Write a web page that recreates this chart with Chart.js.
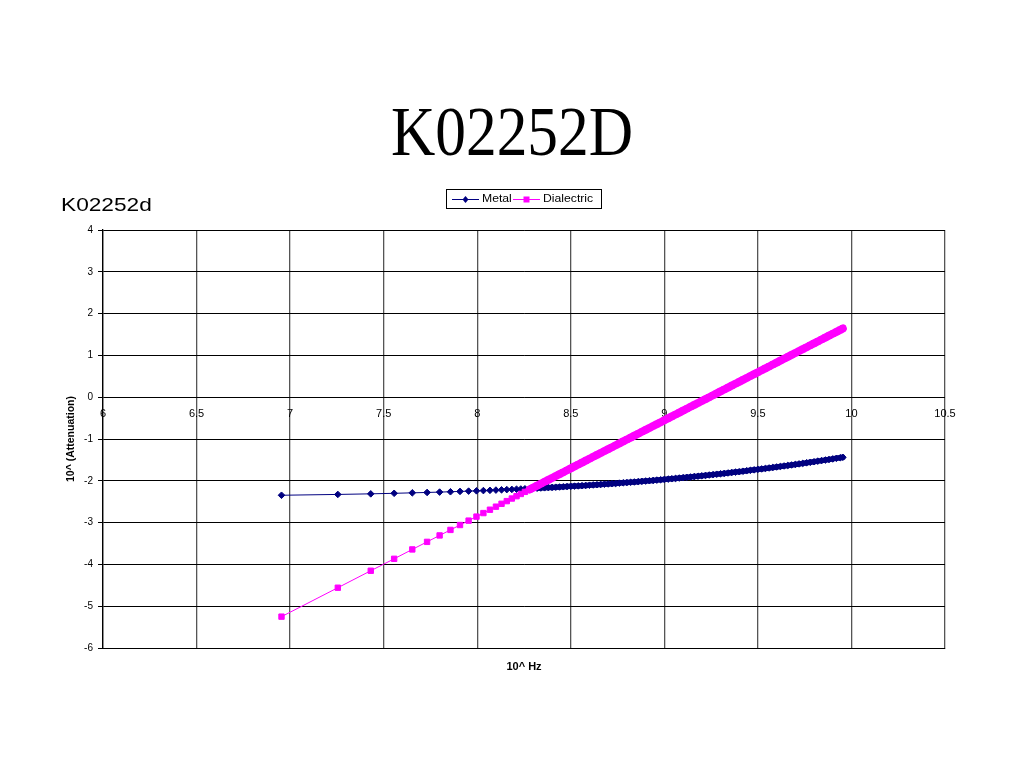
<!DOCTYPE html>
<html>
<head>
<meta charset="utf-8">
<title>K02252D</title>
<script src="https://cdn.jsdelivr.net/npm/chart.js"></script>
<style>
  body { margin: 0; background: #fff; }
  #wrap { position: relative; width: 1024px; height: 768px; overflow: hidden; }
  #myChart { position: absolute; left: 0; top: 0; }
  #title {
    position: absolute; left: 0; top: 98px; width: 1024px;
    text-align: center; line-height: 1;
    font-family: 'Liberation Serif', 'Times New Roman', serif; font-size: 69px;
    transform: scaleX(0.89);
  }
  #subtitle {
    position: absolute; left: 61px; top: 196px; line-height: 1;
    font-family: 'Liberation Sans', Arial, sans-serif; font-size: 18px;
    transform: scaleX(1.26); transform-origin: left top;
  }
</style>
</head>
<body>
<div id="wrap">
  <canvas id="myChart" width="1024" height="768"></canvas>
  <div id="title">K02252D</div>
  <div id="subtitle">K02252d</div>
</div>
<script>
'use strict'

// x = 10^ Hz, shared by both series
const xValues = [
  6.954, 7.255, 7.431, 7.556, 7.653, 7.732, 7.799, 7.857, 7.908, 7.954,
  7.996, 8.033, 8.068, 8.100, 8.130, 8.158, 8.185, 8.210, 8.233, 8.255,
  8.28, 8.30, 8.32, 8.34, 8.36, 8.38, 8.40, 8.42, 8.44, 8.46,
  8.48, 8.50, 8.52, 8.54, 8.56, 8.58, 8.60, 8.62, 8.64, 8.66,
  8.68, 8.70, 8.72, 8.74, 8.76, 8.78, 8.80, 8.82, 8.84, 8.86,
  8.88, 8.90, 8.92, 8.94, 8.96, 8.98, 9.00, 9.02, 9.04, 9.06,
  9.08, 9.10, 9.12, 9.14, 9.16, 9.18, 9.20, 9.22, 9.24, 9.26,
  9.28, 9.30, 9.32, 9.34, 9.36, 9.38, 9.40, 9.42, 9.44, 9.46,
  9.48, 9.50, 9.52, 9.54, 9.56, 9.58, 9.60, 9.62, 9.64, 9.66,
  9.68, 9.70, 9.72, 9.74, 9.76, 9.78, 9.80, 9.82, 9.84, 9.86,
  9.88, 9.90, 9.92, 9.94, 9.954
];

const metalValues = [
  -2.346, -2.326, -2.312, -2.299, -2.288, -2.279, -2.270, -2.262, -2.254, -2.247,
  -2.240, -2.234, -2.228, -2.222, -2.216, -2.211, -2.206, -2.201, -2.196, -2.191,
  -2.186, -2.181, -2.177, -2.172, -2.168, -2.163, -2.158, -2.153, -2.148, -2.143,
  -2.138, -2.133, -2.127, -2.122, -2.116, -2.111, -2.105, -2.099, -2.093, -2.087,
  -2.081, -2.075, -2.068, -2.062, -2.055, -2.048, -2.042, -2.035, -2.028, -2.020,
  -2.013, -2.006, -1.998, -1.991, -1.983, -1.975, -1.967, -1.959, -1.951, -1.943,
  -1.934, -1.925, -1.917, -1.908, -1.899, -1.890, -1.881, -1.871, -1.862, -1.852,
  -1.843, -1.833, -1.823, -1.813, -1.802, -1.792, -1.782, -1.771, -1.760, -1.749,
  -1.738, -1.727, -1.716, -1.704, -1.693, -1.681, -1.669, -1.657, -1.645, -1.633,
  -1.621, -1.608, -1.596, -1.583, -1.570, -1.557, -1.544, -1.530, -1.517, -1.504,
  -1.490, -1.476, -1.462, -1.448, -1.438
];

const dialectricValues = [
  -5.250, -4.558, -4.152, -3.866, -3.642, -3.461, -3.307, -3.175, -3.058, -2.953,
  -2.857, -2.772, -2.692, -2.619, -2.550, -2.486, -2.424, -2.368, -2.315, -2.265,
  -2.208, -2.162, -2.116, -2.070, -2.024, -1.978, -1.932, -1.886, -1.840, -1.794,
  -1.748, -1.702, -1.656, -1.610, -1.564, -1.518, -1.472, -1.426, -1.380, -1.334,
  -1.288, -1.242, -1.196, -1.150, -1.104, -1.058, -1.012, -0.966, -0.920, -0.874,
  -0.828, -0.782, -0.736, -0.690, -0.644, -0.598, -0.552, -0.506, -0.460, -0.414,
  -0.368, -0.322, -0.276, -0.230, -0.184, -0.138, -0.092, -0.046, 0.000, 0.046,
  0.092, 0.138, 0.184, 0.230, 0.276, 0.322, 0.368, 0.414, 0.460, 0.506,
  0.552, 0.598, 0.644, 0.690, 0.736, 0.782, 0.828, 0.874, 0.920, 0.966,
  1.012, 1.058, 1.104, 1.150, 1.196, 1.242, 1.288, 1.334, 1.380, 1.426,
  1.472, 1.518, 1.564, 1.610, 1.645
];

const seriesNames = ['Metal', 'Dialectric'];
const seriesColors = ['#000080', '#FF00FF'];

const xTitle = '10^ Hz';
const yTitle = '10^ (Attenuation)';

// past this x the markers sit so close together they merge into a band
const denseFrom = 8.27;

function toPoints(ys) {
  return xValues.map((x, i) => ({ x: x, y: ys[i] }));
}

Chart.defaults.font.family = "'Liberation Sans', Arial, sans-serif";
Chart.defaults.color = '#000';

// legend with a border box, like the Excel one
const boxedLegend = {
  id: 'boxedLegend',
  afterDraw(chart) {
    const ctx = chart.ctx;
    ctx.save();
    ctx.strokeStyle = '#000';
    ctx.lineWidth = 1;
    ctx.strokeRect(446.5, 189.5, 155, 19);
    const items = [
      { x: 452, text: seriesNames[0], color: seriesColors[0], style: 'diamond' },
      { x: 513, text: seriesNames[1], color: seriesColors[1], style: 'square' }
    ];
    const y = 199;
    items.forEach(it => {
      ctx.strokeStyle = it.color;
      ctx.fillStyle = it.color;
      ctx.beginPath();
      ctx.moveTo(it.x, y + 0.5);
      ctx.lineTo(it.x + 27, y + 0.5);
      ctx.stroke();
      const mx = it.x + 13.5;
      ctx.beginPath();
      if (it.style === 'diamond') {
        ctx.moveTo(mx, y - 3);
        ctx.lineTo(mx + 3, y + 0.5);
        ctx.lineTo(mx, y + 4);
        ctx.lineTo(mx - 3, y + 0.5);
      } else {
        ctx.rect(mx - 3, y - 2.5, 6, 6);
      }
      ctx.closePath();
      ctx.fill();
      ctx.fillStyle = '#000';
      ctx.font = "10px 'Liberation Sans', Arial, sans-serif";
      ctx.textBaseline = 'middle';
      ctx.save();
      ctx.translate(it.x + 30, y + 0.5);
      ctx.scale(1.22, 1);
      ctx.fillText(it.text, 0, 0);
      ctx.restore();
    });
    ctx.restore();
  }
};

const config = {
  type: 'scatter',
  data: {
    datasets: [
      {
        label: seriesNames[0],
        data: toPoints(metalValues),
        showLine: true,
        borderColor: seriesColors[0],
        backgroundColor: seriesColors[0],
        borderWidth: 1,
        borderCapStyle: 'round',
        borderJoinStyle: 'round',
        segment: { borderWidth: c => c.p0.parsed.x >= denseFrom ? 5.5 : 1 },
        pointStyle: 'rectRot',
        pointRadius: 3.3,
        pointBorderWidth: 1,
        order: 2
      },
      {
        label: seriesNames[1],
        data: toPoints(dialectricValues),
        showLine: true,
        borderColor: seriesColors[1],
        backgroundColor: seriesColors[1],
        borderWidth: 1,
        borderCapStyle: 'round',
        borderJoinStyle: 'round',
        segment: { borderWidth: c => c.p0.parsed.x >= denseFrom ? 8 : 1 },
        pointStyle: 'rect',
        pointRadius: 3.8,
        pointBorderWidth: 1,
        order: 1
      }
    ]
  },
  options: {
    responsive: false,
    animation: false,
    layout: { padding: { left: 65, top: 230, right: 79, bottom: 94 } },
    plugins: {
      legend: { display: false },
      tooltip: { enabled: false }
    },
    scales: {
      x: {
        type: 'linear',
        position: 'bottom',
        min: 6,
        max: 10.5,
        ticks: { display: false, stepSize: 0.5 },
        grid: { color: '#555', lineWidth: 1.3, drawTicks: false },
        border: { color: '#000', width: 1 },
        title: {
          display: true,
          text: xTitle,
          font: { size: 11, weight: 'bold' },
          padding: { top: 0, bottom: 0 }
        },
        afterFit: s => { s.height = 26; }
      },
      x2: {
        type: 'linear',
        position: { y: 0 },
        min: 6,
        max: 10.5,
        ticks: {
          stepSize: 0.5, font: { size: 11 }, padding: 2, maxRotation: 0,
          callback: v => String(Math.round(v * 10) / 10)
        },
        grid: { display: false, drawTicks: true, tickLength: 8 },
        border: { display: false }
      },
      y: {
        type: 'linear',
        min: -6,
        max: 4,
        ticks: { stepSize: 1, font: { size: 10 }, padding: 5 },
        grid: { color: '#000', lineWidth: 1, tickLength: 5 },
        border: { color: '#000', width: 1.3 },
        title: {
          display: true,
          text: yTitle,
          font: { size: 10.5, weight: 'bold' },
          padding: { top: 0, bottom: 0 }
        },
        afterFit: s => { s.width = 38; }
      }
    }
  },
  plugins: [boxedLegend]
};

const ctx = document.getElementById('myChart').getContext('2d');
const myChart = new Chart(ctx, config);
</script>
</body>
</html>
